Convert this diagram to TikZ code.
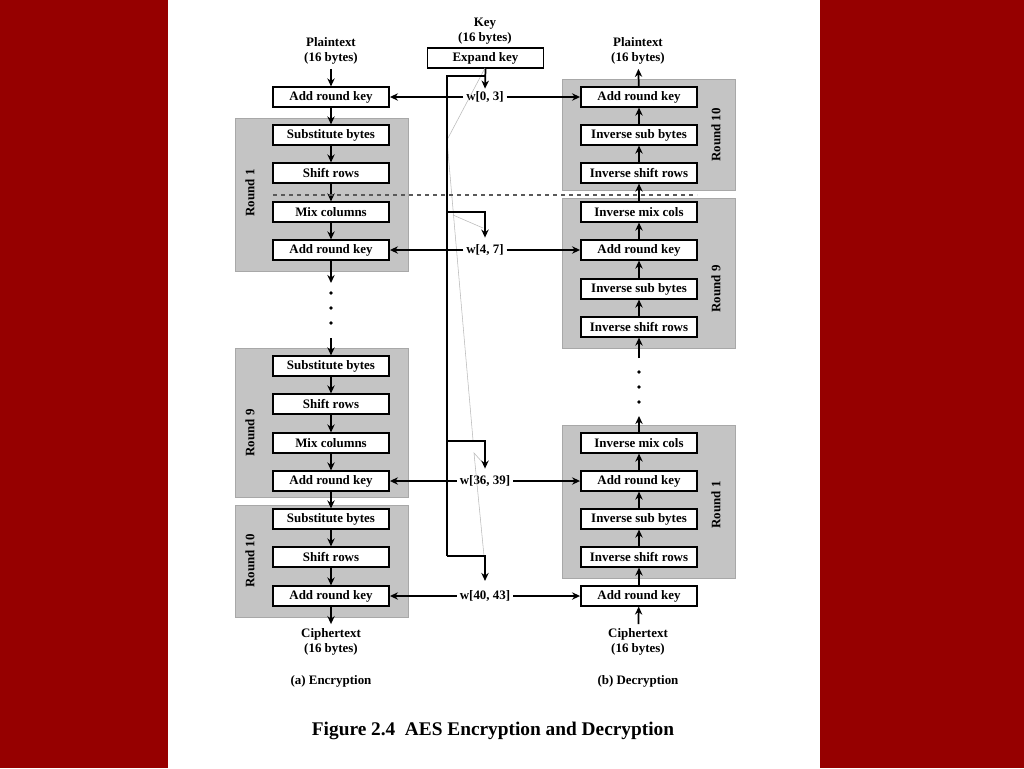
\documentclass[tikz,border=0pt]{standalone}
\usepackage{fontspec}
\setmainfont{Liberation Serif}
\usetikzlibrary{arrows.meta}
\definecolor{slidered}{RGB}{150,0,0}
\definecolor{roundgray}{RGB}{196,196,196}
\definecolor{roundedge}{RGB}{168,168,168}
\begin{document}
\begin{tikzpicture}[line join=miter,>={Stealth[length=6pt,width=5.5pt]},x=0.75pt,y=-0.75pt,
  stage/.style={draw,line width=1.4pt,fill=white,minimum width=87pt,minimum height=14.5pt,inner sep=0pt,font=\fontsize{9.7}{11}\selectfont\bfseries},
  tag/.style={align=center,font=\fontsize{9.7}{11}\selectfont\bfseries},
  wkey/.style={inner sep=2pt,font=\fontsize{9.7}{11}\selectfont\bfseries},
  roundtag/.style={rotate=90,font=\fontsize{9.7}{11}\selectfont\bfseries},
  flow/.style={->,line width=1.3pt},
  keyline/.style={line width=1.3pt},
  roundbox/.style={fill=roundgray,draw=roundedge,line width=0.6pt}]
\useasboundingbox (0,0) rectangle (1024,768);
\fill[slidered] (0,0) rectangle (1024,768);
\fill[white] (168,0) rectangle (820,768);
% round blocks
\draw[roundbox] (235,118) rectangle (408,271);
\draw[roundbox] (235,348) rectangle (408,497);
\draw[roundbox] (235,505) rectangle (408,617);
\draw[roundbox] (562,79) rectangle (735,190);
\draw[roundbox] (562,198) rectangle (735,348);
\draw[roundbox] (562,425) rectangle (735,578);
\node[roundtag] (encr1) at (250,193) {Round 1};
\node[roundtag] (encr9) at (250,433) {Round 9};
\node[roundtag] (encr10) at (250,561) {Round 10};
\node[roundtag] (decr10) at (716,135) {Round 10};
\node[roundtag] (decr9) at (716,289) {Round 9};
\node[roundtag] (decr1) at (716,505) {Round 1};
% encryption
\node[tag] (ptenc) at (331,51) {Plaintext\\(16 bytes)};
\node[stage] (eark0) at (331,97) {Add round key};
\node[stage] (esb1) at (331,135) {Substitute bytes};
\node[stage] (esr1) at (331,173) {Shift rows};
\node[stage] (emc1) at (331,212) {Mix columns};
\node[stage] (eark1) at (331,250) {Add round key};
\node[stage] (esb9) at (331,366) {Substitute bytes};
\node[stage] (esr9) at (331,404) {Shift rows};
\node[stage] (emc9) at (331,443) {Mix columns};
\node[stage] (eark9) at (331,481) {Add round key};
\node[stage] (esb10) at (331,519) {Substitute bytes};
\node[stage] (esr10) at (331,557) {Shift rows};
\node[stage] (eark10) at (331,596) {Add round key};
\node[tag] (ctenc) at (331,642) {Ciphertext\\(16 bytes)};
\node[tag] (capenc) at (331,681) {(a) Encryption};
\coordinate (egapout) at (331,283);
\coordinate (egapin) at (331,338);
\draw[flow] (ptenc) -- (eark0);
\draw[flow] (eark0) -- (esb1);
\draw[flow] (esb1) -- (esr1);
\draw[flow] (esr1) -- (emc1);
\draw[flow] (emc1) -- (eark1);
\draw[flow] (eark1) -- (egapout);
\draw[flow] (egapin) -- (esb9);
\draw[flow] (esb9) -- (esr9);
\draw[flow] (esr9) -- (emc9);
\draw[flow] (emc9) -- (eark9);
\draw[flow] (eark9) -- (esb10);
\draw[flow] (esb10) -- (esr10);
\draw[flow] (esr10) -- (eark10);
\draw[flow] (eark10) -- (ctenc);
\foreach \y in {293,308,323} \fill (331,\y) circle (1.4pt);
% decryption
\node[tag] (ptdec) at (638,51) {Plaintext\\(16 bytes)};
\node[stage] (dark10) at (639,97) {Add round key};
\node[stage] (disb10) at (639,135) {Inverse sub bytes};
\node[stage] (disr10) at (639,173) {Inverse shift rows};
\node[stage] (dimc9) at (639,212) {Inverse mix cols};
\node[stage] (dark9) at (639,250) {Add round key};
\node[stage] (disb9) at (639,289) {Inverse sub bytes};
\node[stage] (disr9) at (639,327) {Inverse shift rows};
\node[stage] (dimc1) at (639,443) {Inverse mix cols};
\node[stage] (dark1) at (639,481) {Add round key};
\node[stage] (disb1) at (639,519) {Inverse sub bytes};
\node[stage] (disr1) at (639,557) {Inverse shift rows};
\node[stage] (dark0) at (639,596) {Add round key};
\node[tag] (ctdec) at (638,642) {Ciphertext\\(16 bytes)};
\node[tag] (capdec) at (638,681) {(b) Decryption};
\coordinate (dgapout) at (639,416);
\coordinate (dgapin) at (639,358);
\draw[flow] (ctdec) -- (dark0);
\draw[flow] (dark0) -- (disr1);
\draw[flow] (disr1) -- (disb1);
\draw[flow] (disb1) -- (dark1);
\draw[flow] (dark1) -- (dimc1);
\draw[flow] (dimc1) -- (dgapout);
\draw[flow] (dgapin) -- (disr9);
\draw[flow] (disr9) -- (disb9);
\draw[flow] (disb9) -- (dark9);
\draw[flow] (dark9) -- (dimc9);
\draw[flow] (dimc9) -- (disr10);
\draw[flow] (disr10) -- (disb10);
\draw[flow] (disb10) -- (dark10);
\draw[flow] (dark10) -- (ptdec);
\foreach \y in {372,387,402} \fill (639,\y) circle (1.4pt);
% key schedule
\node[tag] (key) at (485,31) {Key\\(16 bytes)};
\node[stage] (expand) at (485.5,58) {Expand key};
\node[wkey] (w0) at (485,97) {w[0, 3]};
\node[wkey] (w1) at (485,250) {w[4, 7]};
\node[wkey] (w9) at (485,481) {w[36, 39]};
\node[wkey] (w10) at (485,596) {w[40, 43]};
\coordinate (kbus) at (447,76);
\coordinate (kb1) at (447,212);
\coordinate (kb9) at (447,441);
\coordinate (kend) at (447,556);
\draw[gray!55,line width=0.4pt] (485,68) -- (447,140) -- (473,440);
\draw[gray!55,line width=0.4pt] (483,463) -- (474,453) -- (484,556);
\draw[gray!55,line width=0.4pt] (453,215) -- (483,228);
\draw[keyline] (kbus -| expand.south) -- (kbus) -- (kend);
\draw[flow] (expand.south) -- (w0.north);
\draw[flow,shorten >=3pt] (kb1) -| (w1.north);
\draw[flow,shorten >=3pt] (kb9) -| (w9.north);
\draw[flow,shorten >=5pt] (kend) -| (w10.north);
\draw[flow] (w0) -- (eark0);
\draw[flow] (w0) -- (dark10);
\draw[flow] (w1) -- (eark1);
\draw[flow] (w1) -- (dark9);
\draw[flow] (w9) -- (eark9);
\draw[flow] (w9) -- (dark1);
\draw[flow] (w10) -- (eark10);
\draw[flow] (w10) -- (dark0);
\draw[dashed,line width=0.8pt,dash pattern=on 3pt off 3pt,gray!70!black] (273,195) -- (697,195);
\node (caption) at (493,731) {\fontsize{14.5}{16}\selectfont\bfseries Figure 2.4\enspace AES Encryption and Decryption};
\end{tikzpicture}
\end{document}
